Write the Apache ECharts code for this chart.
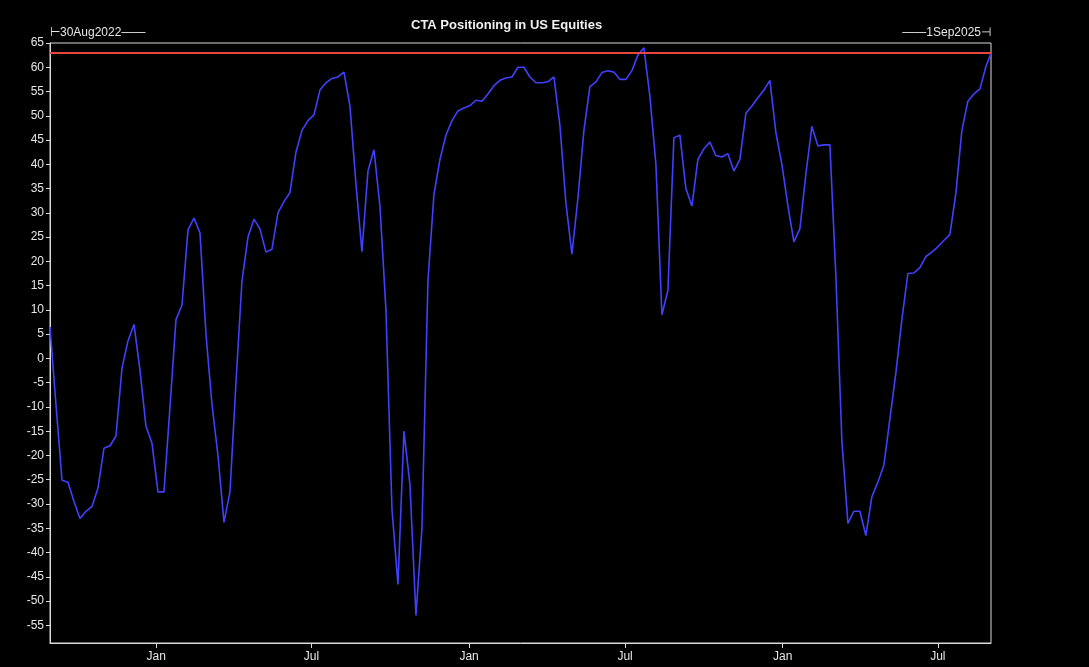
<!DOCTYPE html>
<html>
<head>
<meta charset="utf-8">
<script src="https://cdn.jsdelivr.net/npm/echarts@6/dist/echarts.min.js"></script>
<style>
  html, body { margin: 0; padding: 0; background: #000; }
  #chart { width: 1089px; height: 667px; }
</style>
</head>
<body>
<div id="chart"></div>
<script>
// ---- data (weekly readings from 30 Aug 2022, last point 1 Sep 2025) ----
const START_DATE = '2022-08-30';
const END_DATE = '2025-09-01';
const STEP_DAYS = 7;
const ctaValues = [
  6.5, -9.6, -25.1, -25.5, -29.5, -33, -31.5, -30.5, -26.7, -18.5,
  -18, -16, -2, 3.6, 7, -2.4, -14, -17.5, -27.5, -27.5,
  -10, 8, 11, 26.5, 28.9, 25.9, 5, -9.5, -20, -33.8,
  -27.5, -5, 16, 25, 28.7, 26.7, 21.9, 22.5, 30, 32.3,
  34.2, 42.5, 47, 49, 50.2, 55.3, 56.8, 57.7, 58, 59,
  52, 36, 22, 38.6, 43, 31.4, 10, -31, -46.6, -15,
  -26, -53, -35, 16, 33.8, 41, 46, 49, 51, 51.6,
  52.1, 53.2, 53, 54.5, 56.2, 57.3, 57.8, 58, 60, 60,
  58, 56.8, 56.8, 57, 58, 48, 32, 21.5, 33, 47,
  56, 57, 58.9, 59.3, 59, 57.5, 57.5, 59.3, 62.5, 64,
  54, 40, 9, 14, 45.5, 46, 35, 31.4, 41, 43.2,
  44.6, 41.8, 41.5, 42.2, 38.6, 41, 50.5, 52, 53.7, 55.3,
  57.3, 46.5, 40, 31.5, 24, 26.7, 38, 47.8, 43.8, 44,
  44, 17, -17, -34, -31.5, -31.5, -36.5, -28.5, -25.5, -22,
  -12.5, -3, 8, 17.5, 17.6, 18.7, 21, 21.9, 23, 24.3,
  25.5, 34, 47, 53, 54.5, 55.5, 60.1, 62.9
];
const xTickDates = ['2023-01-01', '2023-07-01', '2024-01-01', '2024-07-01', '2025-01-01', '2025-07-01'];
const yTickValues = [65, 60, 55, 50, 45, 40, 35, 30, 25, 20, 15, 10, 5, 0, -5, -10, -15, -20, -25, -30, -35, -40, -45, -50, -55];
const Y_MIN = -58.65;
const Y_MAX = 65;
const TITLE = 'CTA Positioning in US Equities';
const MONTHS = ['Jan','Feb','Mar','Apr','May','Jun','Jul','Aug','Sep','Oct','Nov','Dec'];

// ---- helpers ----
function parseDate(s, addDays) {
  const p = s.split('-').map(Number);
  return new Date(p[0], p[1] - 1, p[2] + (addDays || 0)).getTime();
}
function fmtLong(v) {
  const d = new Date(v);
  return d.getDate() + MONTHS[d.getMonth()] + d.getFullYear();
}
const tStart = parseDate(START_DATE);
const tEnd = parseDate(END_DATE);
const seriesData = ctaValues.map(function (v, i) {
  const t = (i === ctaValues.length - 1) ? tEnd : parseDate(START_DATE, i * STEP_DAYS);
  return [t, v];
});
const lastValue = ctaValues[ctaValues.length - 1];
const xTicks = xTickDates.map(function (s) { return parseDate(s); });

const textColor = '#e6e6e6';
const axisColor = '#d9d9d9';
const font = 'Liberation Sans, Arial, sans-serif';

const chart = echarts.init(document.getElementById('chart'), null, { renderer: 'canvas' });
chart.setOption({
  backgroundColor: '#000',
  animation: false,
  title: {
    text: TITLE,
    left: 406,
    top: 14,
    textStyle: { color: '#f0f0f0', fontSize: 13, fontWeight: 'bold', fontFamily: font }
  },
  grid: {
    left: 50, right: 98, top: 43, bottom: 24,
    show: true, borderColor: axisColor, borderWidth: 1, backgroundColor: 'transparent'
  },
  xAxis: [
    {
      type: 'value',
      min: tStart, max: tEnd,
      position: 'bottom',
      axisLine: { show: true, onZero: false, lineStyle: { color: axisColor, width: 1 } },
      axisTick: { show: true, length: 5, lineStyle: { color: axisColor }, customValues: xTicks },
      axisLabel: {
        color: textColor, fontSize: 12, fontFamily: font, margin: 8,
        customValues: xTicks,
        formatter: function (v) { return MONTHS[new Date(v).getMonth()]; }
      },
      splitLine: { show: false }
    },
    {
      type: 'value',
      min: tStart, max: tEnd,
      position: 'top',
      axisLine: { show: false, onZero: false },
      axisTick: { show: false },
      axisLabel: {
        color: textColor, fontSize: 12, fontFamily: font, margin: 4,
        customValues: [tStart, tEnd],
        alignMinLabel: 'left', alignMaxLabel: 'right',
        showMinLabel: true, showMaxLabel: true, hideOverlap: false,
        formatter: function (v) {
          return v <= tStart ? '\u22A2' + fmtLong(v) + '\u2014\u2014' : '\u2014\u2014' + fmtLong(v) + '\u22A3';
        }
      },
      splitLine: { show: false }
    }
  ],
  yAxis: {
    type: 'value',
    min: Y_MIN, max: Y_MAX,
    axisLine: { show: true, onZero: false, lineStyle: { color: axisColor, width: 1 } },
    axisTick: { show: true, length: 4, lineStyle: { color: axisColor }, customValues: yTickValues },
    axisLabel: { color: textColor, fontSize: 12, fontFamily: font, margin: 6, customValues: yTickValues },
    splitLine: { show: false }
  },
  series: [{
    type: 'line',
    xAxisIndex: 0,
    data: seriesData,
    showSymbol: false,
    symbol: 'none',
    lineStyle: { color: '#4040ff', width: 1.6 },
    markLine: {
      silent: true,
      symbol: 'none',
      label: { show: false },
      lineStyle: { color: '#e8453c', width: 2, type: 'solid' },
      data: [{ yAxis: lastValue }]
    }
  }]
});
</script>
</body>
</html>
